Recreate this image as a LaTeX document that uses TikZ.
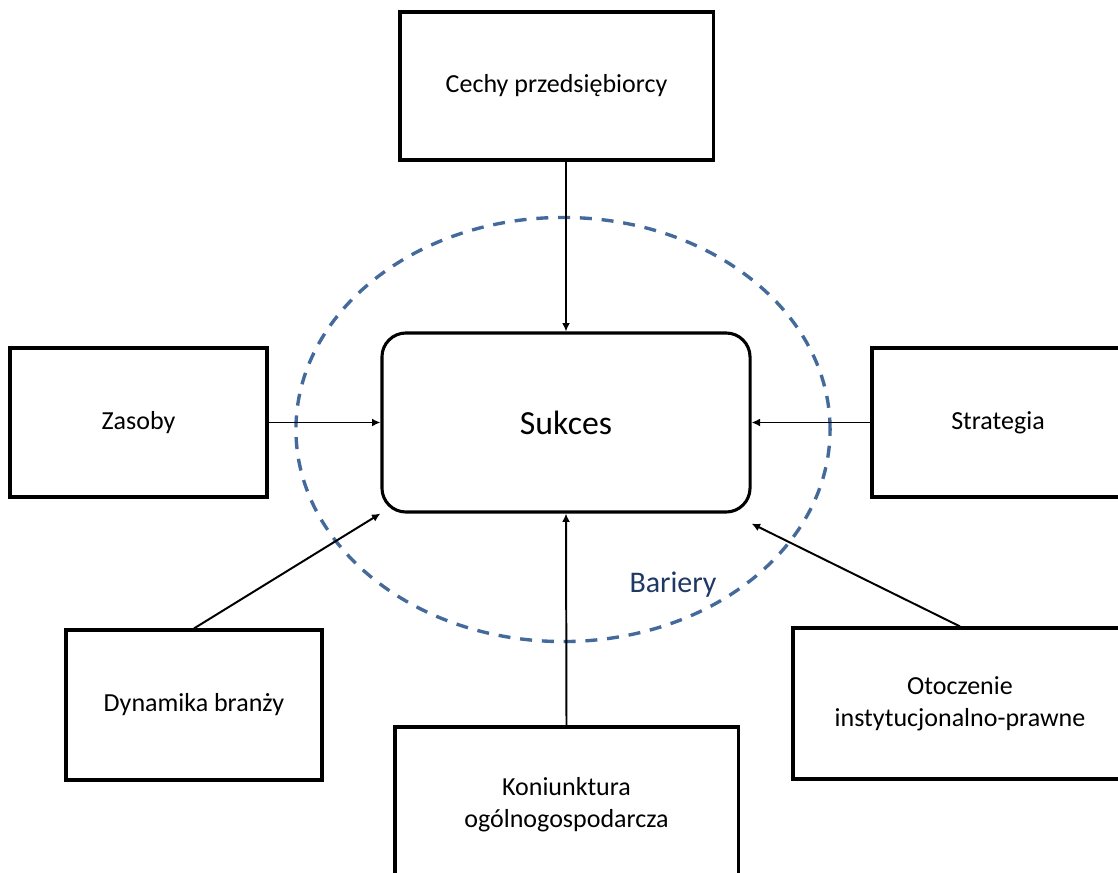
\documentclass[tikz,border=0pt]{standalone}
\usepackage{fontspec}
\setmainfont{Carlito}
\usetikzlibrary{arrows.meta}
\definecolor{barblue}{HTML}{44699B}
\definecolor{bartext}{HTML}{1F3864}

\begin{document}
\begin{tikzpicture}[
  x=0.025cm,y=-0.025cm,
  >={Latex[length=2.1mm,width=2mm]},
  factor/.style={draw,line width=2.2pt,fill=white,align=center,font=\fontsize{18.5}{22.5}\selectfont},
  core/.style={draw,line width=2.2pt,fill=white,rounded corners=0.6cm,minimum width=9.2cm,minimum height=4.475cm,font=\fontsize{24}{28}\selectfont},
  link/.style={->,line width=1.4pt}]
\useasboundingbox (0,0) rectangle (1118,873);
\clip (0,0) rectangle (1118,873);
\fill[white] (0,0) rectangle (1118,873);
% barriers
\draw[barblue,line width=2.4pt,dash pattern=on 8.5pt off 7pt] (563,429.5) ellipse [x radius=6.675cm,y radius=5.3cm];
\node[text=bartext,font=\fontsize{21.3}{25}\selectfont] (bariery) at (673,585) {Bariery};
% factors
\node[core] (sukces) at (566,422.5) {Sukces};
\node[factor,minimum width=7.825cm,minimum height=3.7cm] (cechy) at (556.5,86) {Cechy przedsiębiorcy};
\node[factor,minimum width=6.425cm,minimum height=3.725cm] (zasoby) at (138.5,422.5) {Zasoby};
\node[factor,minimum width=6.3cm,minimum height=3.725cm] (strategia) at (998,422.5) {Strategia};
\node[factor,minimum width=6.4cm,minimum height=3.75cm] (dynamika) at (194,705) {Dynamika branży};
\node[factor,minimum width=8.575cm,minimum height=3.9cm] (koniunktura) at (566.5,805) {Koniunktura\\ogólnogospodarcza};
\node[factor,minimum width=8.35cm,minimum height=3.775cm] (otoczenie) at (960,703.5) {Otoczenie\\instytucjonalno-prawne};
\draw[link] (cechy.south -| sukces.north) -- (sukces.north);
\draw[link] (zasoby.east) -- (sukces.west);
\draw[link] (strategia.west) -- (sukces.east);
\draw[link] (dynamika.north) -- (sukces.south west);
\draw[link] (koniunktura.north) -- (sukces.south);
\draw[link] (otoczenie.north) -- ([yshift=-0.25cm]sukces.south east);
\end{tikzpicture}
\end{document}
